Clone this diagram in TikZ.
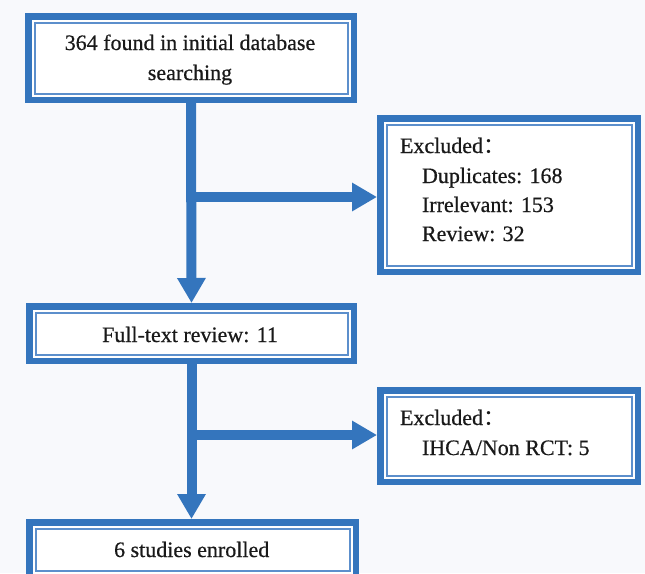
\documentclass[tikz,border=0pt]{standalone}
\usepackage{fontspec}
\setmainfont{Liberation Serif}
\newfontface\heavyserif{Liberation Serif}[FakeBold=0.6]
\newfontfamily\cjk{Noto Sans CJK SC}
\usetikzlibrary{arrows.meta}
\definecolor{fblue}{HTML}{3475BD}
\definecolor{fthin}{HTML}{5C8FCC}
\definecolor{bgc}{HTML}{F8F9FC}
\begin{document}
\begin{tikzpicture}[x=1pt,y=-1pt,
  box/.style={rectangle, draw=fblue, line width=6.5pt, fill=white, inner sep=0pt, outer sep=0pt},
  thinline/.style={draw=fthin, line width=2pt},
  txt/.style={inner sep=0pt, outer sep=0pt, text=black!90, font=\heavyserif\fontsize{22}{29}\selectfont},
  flow/.style={draw=fblue, line width=10pt, -{Triangle[width=27pt,length=25pt]}, shorten >=3.25pt}]
\fill[bgc] (0,0) rectangle (645,573);
\useasboundingbox (0,0) rectangle (645,573);
\clip (0,0) rectangle (645,573);
% boxes
\node[box, minimum width=325.5pt, minimum height=83.5pt] (b1) at (191,58) {};
\node[box, minimum width=257.5pt, minimum height=153.5pt] (b2) at (509,195) {};
\node[box, minimum width=324.5pt, minimum height=54.5pt] (b3) at (191.5,333.5) {};
\node[box, minimum width=257.5pt, minimum height=91.5pt] (b4) at (509,436) {};
\node[box, minimum width=326.5pt, minimum height=54.5pt] (b5) at (192.5,549.5) {};
\foreach \n in {b1,b2,b3,b4,b5}
  \draw[thinline] ([shift={(6.25pt,-6.25pt)}]\n.north west) rectangle ([shift={(-6.25pt,6.25pt)}]\n.south east);
% connectors
\coordinate (j1) at (191,197);
\coordinate (j2) at (191.5,435);
\draw[flow] (b1.south) -- (b3.north);
\draw[flow] (j1) -- (j1 -| b2.west);
\draw[flow] (b3.south) -- (b3.south |- b5.north);
\draw[flow] (j2) -- (j2 -| b4.west);
% texts
\node[txt, anchor=base] (t1a) at (190,50) {364 found in initial database};
\node[txt, anchor=base] (t1b) at (190,80) {searching};
\node[txt, anchor=base west] (t2a) at (400,153) {Excluded{\cjk ：}};
\node[txt, anchor=base west] (t2b) at (422,183) {Duplicates: 168};
\node[txt, anchor=base west] (t2c) at (422,212) {Irrelevant: 153};
\node[txt, anchor=base west] (t2d) at (422,241) {Review: 32};
\node[txt, anchor=base] (t3) at (190,342) {Full-text review: 11};
\node[txt, anchor=base west] (t4a) at (400,425) {Excluded{\cjk ：}};
\node[txt, anchor=base west] (t4b) at (422,455) {IHCA/Non RCT: 5};
\node[txt, anchor=base] (t5) at (191.7,557) {6 studies enrolled};
\end{tikzpicture}
\end{document}
